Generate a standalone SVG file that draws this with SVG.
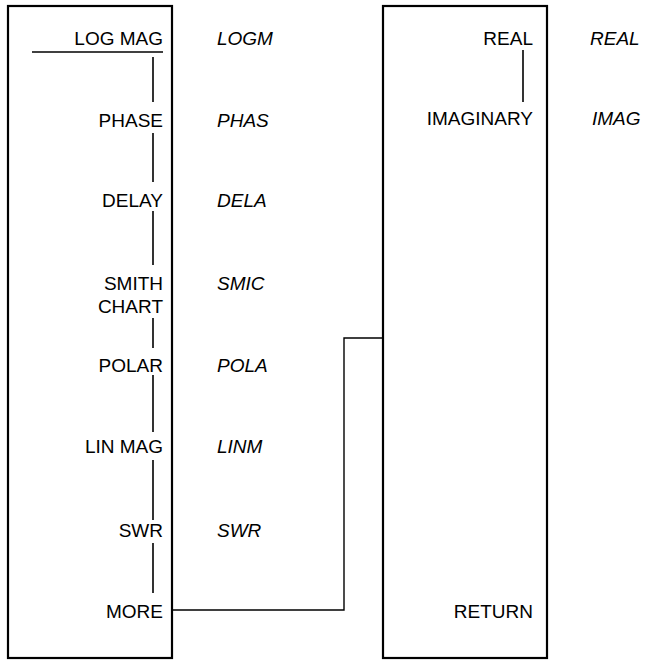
<svg xmlns="http://www.w3.org/2000/svg" width="645" height="660" viewBox="0 0 645 660">
<style>
.box{fill:none;stroke:#000;stroke-width:2.2}
.key{font-family:"Liberation Sans",Arial,sans-serif;font-size:19px;text-anchor:end;fill:#000}
.mn{font-family:"Liberation Sans",Arial,sans-serif;font-size:19px;font-style:italic;fill:#000}
.ln{fill:none;stroke:#000;stroke-width:1.6}
.cn{fill:none;stroke:#000;stroke-width:1.4}
</style>
<rect width="645" height="660" fill="#fff"/>
<g id="menu-format">
<rect class="box" x="8" y="6" width="164" height="652"/>
<line class="ln" x1="32" y1="52" x2="163" y2="52"/>
<path class="ln" d="M153 57V102M153 133V182M153 211V265M153 318V348M153 375V432M153 460V520M153 543V593"/>
</g>
<g id="logmag"><text class="key" x="163" y="45">LOG MAG</text><text class="mn" x="217" y="45">LOGM</text></g>
<g id="phase"><text class="key" x="163" y="127">PHASE</text><text class="mn" x="217" y="127">PHAS</text></g>
<g id="delay"><text class="key" x="163" y="207">DELAY</text><text class="mn" x="217" y="207">DELA</text></g>
<g id="smith"><text class="key" x="163" y="290">SMITH</text><text class="key" x="163" y="313">CHART</text><text class="mn" x="217" y="290">SMIC</text></g>
<g id="polar"><text class="key" x="163" y="372">POLAR</text><text class="mn" x="217" y="372">POLA</text></g>
<g id="linmag"><text class="key" x="163" y="453">LIN MAG</text><text class="mn" x="217" y="453">LINM</text></g>
<g id="swr"><text class="key" x="163" y="537">SWR</text><text class="mn" x="217" y="537">SWR</text></g>
<g id="more"><text class="key" x="163" y="618">MORE</text></g>
<g id="menu-more">
<rect class="box" x="383" y="6" width="164" height="652"/>
<line class="ln" x1="523" y1="50" x2="523" y2="102"/>
</g>
<g id="real"><text class="key" x="533" y="45">REAL</text><text class="mn" x="590" y="45">REAL</text></g>
<g id="imag"><text class="key" x="533" y="125">IMAGINARY</text><text class="mn" x="592" y="125">IMAG</text></g>
<g id="return"><text class="key" x="533" y="618">RETURN</text></g>
<g id="connectors">
<path class="cn" d="M173 610H344V338H383"/>
</g>
</svg>
